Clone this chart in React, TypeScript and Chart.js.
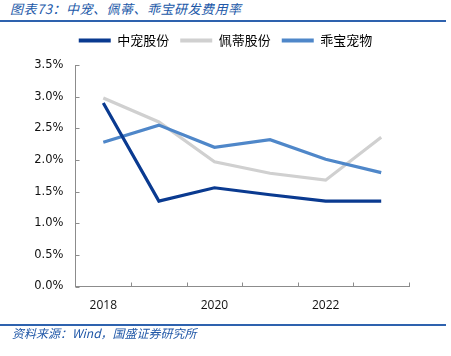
import React, { useEffect, useRef } from "react";
import { Chart, registerables } from "chart.js";
Chart.register(...registerables);

const years = ["2018", "2019", "2020", "2021", "2022", "2023"];
const seriesNames = ["中宠股份", "佩蒂股份", "乖宝宠物"];
const zhongchong = [2.9, 1.35, 1.56, 1.45, 1.35, 1.35];
const peidi = [2.98, 2.6, 1.97, 1.79, 1.68, 2.36];
const guaibao = [2.28, 2.55, 2.2, 2.32, 2.01, 1.8];
const yMin = 0;
const yMax = 3.5;
const yStep = 0.5;
const titleText = "图表73：中宠、佩蒂、乖宝研发费用率";
const sourceText = "资料来源：Wind，国盛证券研究所";

const colors = ["#0A3A90", "#D0D0D0", "#4F87C9"];
const axisColor = "#8C8C8C";

const innerTicks = {
  id: "innerTicks",
  afterLayout(chart: any) {
    const lg = chart.legend;
    if (lg) {
      lg.left = 0;
      lg.right = 451;
      lg.width = 451;
      lg.top -= 8;
      lg.bottom -= 8;
    }
  },
  afterDatasetsDraw(chart: any) {
    const { ctx, chartArea, scales } = chart;
    ctx.save();
    ctx.strokeStyle = axisColor;
    ctx.lineWidth = 1;
    const y = scales.y;
    y.ticks.forEach((_t: any, i: number) => {
      const py = Math.round(y.getPixelForTick(i)) + 0.5;
      ctx.beginPath();
      ctx.moveTo(chartArea.left, py);
      ctx.lineTo(chartArea.left + 4, py);
      ctx.stroke();
    });
    const x = scales.x;
    const n = x.ticks.length;
    const half = (chartArea.right - chartArea.left) / n / 2;
    for (let i = 0; i <= n; i++) {
      const px = i === n ? chartArea.right : x.getPixelForTick(i) - half;
      const rx = Math.round(px) + 0.5;
      ctx.beginPath();
      ctx.moveTo(rx, chartArea.bottom);
      ctx.lineTo(rx, chartArea.bottom - 4);
      ctx.stroke();
    }
    ctx.restore();
  },
};

export default function App() {
  const ref = useRef<HTMLCanvasElement | null>(null);
  useEffect(() => {
    if (!ref.current) return;
    const datasets = [zhongchong, peidi, guaibao].map((d, i) => ({
      label: seriesNames[i],
      data: d,
      borderColor: colors[i],
      backgroundColor: colors[i],
      borderWidth: 3.2,
      pointRadius: 0,
      tension: 0,
      order: i === 0 ? 0 : i === 1 ? 2 : 1,
    }));
    const chart = new Chart(ref.current, {
      type: "line",
      data: { labels: years, datasets },
      plugins: [innerTicks],
      options: {
        animation: false,
        responsive: false,
        maintainAspectRatio: false,
        layout: { padding: { left: 0, right: 42, top: 31, bottom: 0 } },
        plugins: {
          tooltip: { enabled: false },
          legend: {
            position: "top",
            labels: {
              boxWidth: 32,
              boxHeight: 4,
              padding: 11,
              color: "#333",
              font: { family: "'Noto Sans CJK SC', sans-serif", size: 13 },
              generateLabels: (c: any) =>
                c.data.datasets.map((ds: any, i: number) => ({
                  text: ds.label,
                  fillStyle: ds.borderColor,
                  strokeStyle: ds.borderColor,
                  lineWidth: 0,
                  hidden: false,
                  datasetIndex: i,
                })),
            },
          },
        },
        scales: {
          x: {
            type: "category",
            offset: true,
            grid: { display: false, offset: true, drawTicks: false },
            border: { display: true, color: axisColor, width: 1 },
            ticks: {
              autoSkip: false,
              maxRotation: 0,
              padding: 12,
              color: "#111",
              font: { family: "'Open Sans', sans-serif", size: 12 },
              callback: (_v: any, i: number) => (i % 2 === 0 ? years[i] : ""),
            },
            afterFit: (s: any) => {
              s.height = 356 - 286.5;
            },
          },
          y: {
            min: yMin,
            max: yMax,
            grid: { display: false, drawTicks: false },
            border: { display: true, color: axisColor, width: 1 },
            ticks: {
              stepSize: yStep,
              padding: 12,
              color: "#111",
              font: { family: "'DejaVu Sans', sans-serif", size: 11.5 },
              callback: (v: any) => Number(v).toFixed(1) + "%",
            },
            afterFit: (s: any) => {
              s.width = 75.5;
            },
          },
        },
      },
    });
    return () => chart.destroy();
  }, []);

  return (
    <div style={{ position: "absolute", left: 0, top: 0, width: 451, height: 356, background: "#fff", overflow: "hidden" }}>
      <div
        style={{
          position: "absolute",
          left: 10,
          top: 0,
          fontFamily: "'Noto Sans CJK SC', sans-serif",
          fontStyle: "italic",
          fontSize: 13,
          lineHeight: "17px",
          color: "#2158A8",
          whiteSpace: "nowrap",
          letterSpacing: 0.5,
        }}
      >
        {titleText}
      </div>
      <div style={{ position: "absolute", left: 0, top: 20, width: 446, height: 2, background: "#2E62AE" }} />
      <canvas ref={ref} width={451} height={356} style={{ position: "absolute", left: 0, top: 0 }} />
      <div style={{ position: "absolute", left: 0, top: 324, width: 446, height: 2, background: "#2E62AE" }} />
      <div
        style={{
          position: "absolute",
          left: 12,
          top: 325,
          fontFamily: "'Noto Sans CJK SC', sans-serif",
          fontStyle: "italic",
          fontSize: 12,
          lineHeight: "16px",
          color: "#2158A8",
          whiteSpace: "nowrap",
        }}
      >
        {sourceText}
      </div>
    </div>
  );
}
